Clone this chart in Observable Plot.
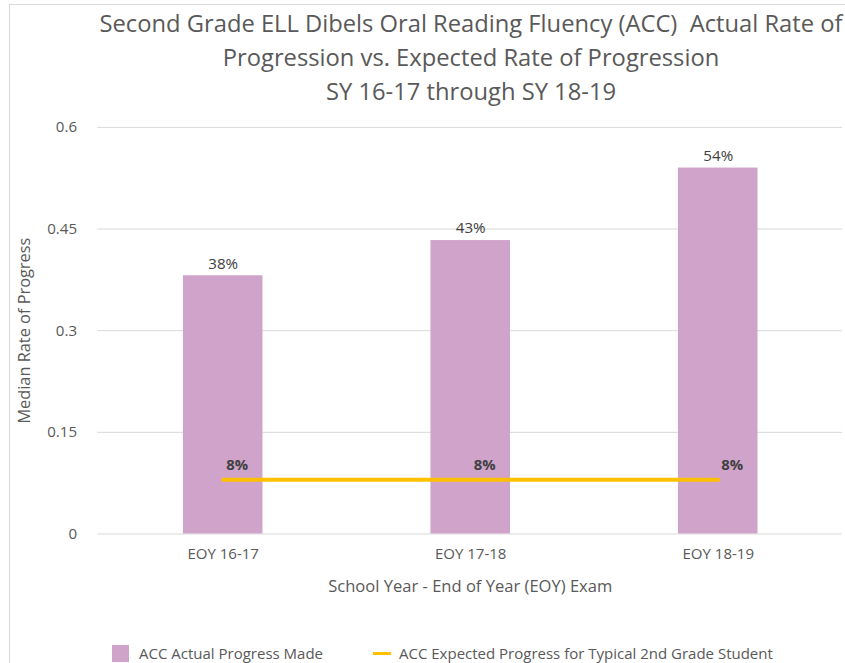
<!DOCTYPE html>
<html><head><meta charset="utf-8">
<script src="https://cdn.jsdelivr.net/npm/d3@7"></script>
<script src="https://cdn.jsdelivr.net/npm/@observablehq/plot@0.6"></script>
<style>
body{margin:0;overflow:hidden;background:#fff;font-family:"Open Sans",sans-serif;color:#595959}
#wrap{position:relative;width:845px;height:663px;overflow:hidden}
#frame{position:absolute;left:9px;top:4px;width:900px;height:700px;border-left:1px solid #d9d9d9;border-top:1px solid #d9d9d9}
#title{position:absolute;left:71px;width:800px;top:6px;text-align:center;line-height:34px;color:#595959}
#title div{white-space:nowrap}
#chart{position:absolute;left:0;top:110px}
.leg{position:absolute;color:#595959;white-space:nowrap;line-height:18px}
</style></head>
<body><div id="wrap">
<div id="frame"></div>
<div id="title"><div id="t1"></div><div id="t2"></div><div id="t3"></div></div>
<div id="chart"></div>
<div class="leg" style="left:112px;top:645px;width:17px;height:17px;background:#cfa3ca"></div>
<div class="leg" id="l1" style="left:139px;top:644px"></div>
<div class="leg" style="left:373px;top:652px;width:18px;height:3px;background:#ffc000"></div>
<div class="leg" id="l2" style="left:399px;top:644px"></div>
</div>
<script>
const years = ["EOY 16-17", "EOY 17-18", "EOY 18-19"];
const actual = [0.381, 0.433, 0.54];
const expected = [0.08, 0.08, 0.08];
const actualLabels = ["38%", "43%", "54%"];
const expectedLabels = ["8%", "8%", "8%"];
const yTicks = [0, 0.15, 0.3, 0.45, 0.6];
const titleLines = ["Second Grade ELL Dibels Oral Reading Fluency (ACC)\u00a0 Actual Rate of", "Progression vs. Expected Rate of Progression", "SY 16-17 through SY 18-19"];
const xTitle = "School Year - End of Year (EOY) Exam";
const yTitle = "Median Rate of Progress";
const legendLabels = ["ACC Actual Progress Made", "ACC Expected Progress for Typical 2nd Grade Student"];

// font sizes matched to the reference's text widths
const ctx = document.createElement("canvas").getContext("2d");
function fit(text, target, weight = "normal") {
  ctx.font = `${weight} 100px "Open Sans"`;
  return +(100 * target / ctx.measureText(text).width).toFixed(2);
}
const titleSize = fit(titleLines[0], 743);
const tickSize = fit("EOY 16-17", 72);
const yTickSize = fit("0.45", 30);
const valueSize = fit("38%", 30);
const lineLabSize = fit("8%", 22, "bold");
const legendSize = fit(legendLabels[1], 374);
const xTitleSize = fit(xTitle, 286);
const yTitleSize = fit(yTitle, 187);

["t1", "t2", "t3"].forEach((id, i) => {
  const el = document.getElementById(id);
  el.textContent = titleLines[i];
  el.style.fontSize = titleSize + "px";
});
["l1", "l2"].forEach((id, i) => {
  const el = document.getElementById(id);
  el.textContent = legendLabels[i];
  el.style.fontSize = legendSize + "px";
});

const rows = years.map((y, i) => ({year: y, actual: actual[i], expected: expected[i], aLab: actualLabels[i], eLab: expectedLabels[i]}));

const chart = Plot.plot({
  width: 850, height: 500,
  marginLeft: 98, marginRight: 3, marginTop: 17, marginBottom: 74,
  style: {fontFamily: "Open Sans, sans-serif", fontSize: tickSize + "px", color: "#595959", background: "transparent", overflow: "visible"},
  x: {domain: years, paddingInner: 0.68, paddingOuter: 0.34, label: null},
  y: {domain: [0, 0.6], label: null},
  marks: [
    Plot.gridY(yTicks, {stroke: "#d9d9d9", strokeOpacity: 1, strokeWidth: 1}),
    Plot.axisY(yTicks, {tickSize: 0, tickPadding: 21, tickFormat: d => String(d), fontSize: yTickSize, fill: "#595959", label: null}),
    Plot.axisX({tickSize: 0, tickPadding: 14, fontSize: tickSize, fill: "#595959", label: null}),
    Plot.barY(rows, {x: "year", y: "actual", fill: "#cfa3ca"}),
    Plot.text(rows, {x: "year", y: "actual", text: "aLab", dy: -12, fill: "#404040", fontSize: valueSize}),
    Plot.lineY(rows, {x: "year", y: "expected", stroke: "#ffc000", strokeWidth: 4, strokeLinecap: "round"}),
    Plot.text(rows, {x: "year", y: "expected", text: "eLab", dx: 14, dy: -15, fill: "#404040", fontWeight: "bold", fontSize: lineLabSize}),
    Plot.text([xTitle], {frameAnchor: "bottom", lineAnchor: "middle", dy: 53, fontSize: xTitleSize, fill: "#595959"}),
    Plot.text([yTitle], {frameAnchor: "left", textAnchor: "middle", lineAnchor: "middle", dx: -74, rotate: -90, fontSize: yTitleSize, fill: "#595959"})
  ]
});
document.getElementById("chart").appendChild(chart);
</script>
</body></html>
